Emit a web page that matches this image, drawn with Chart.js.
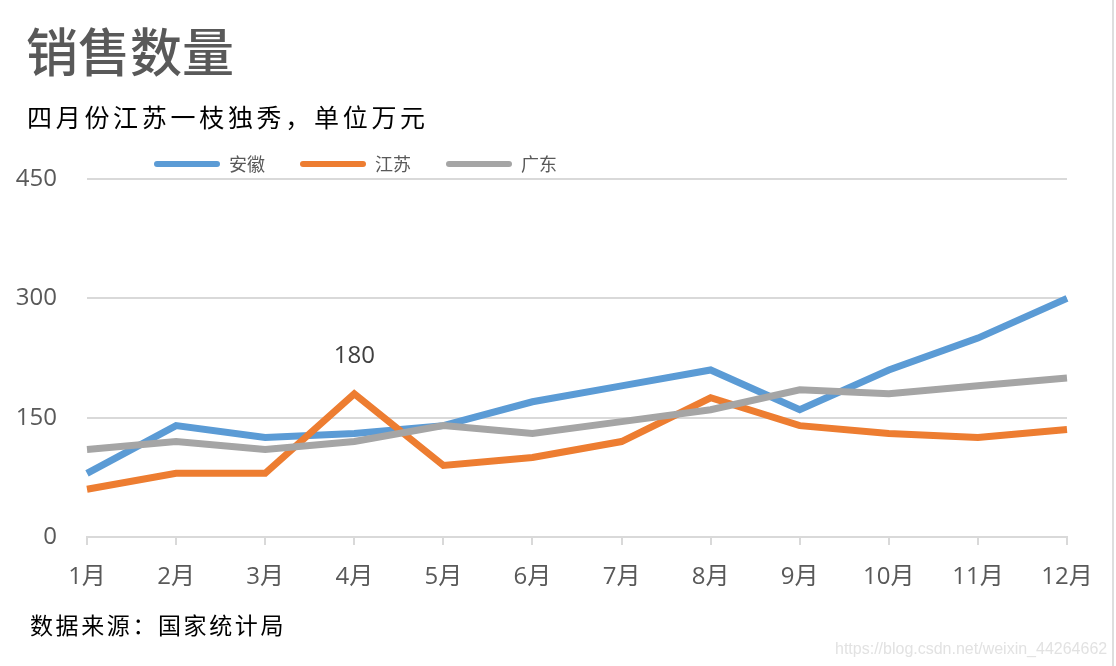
<!DOCTYPE html>
<html>
<head>
<meta charset="utf-8">
<script src="https://cdn.jsdelivr.net/npm/chart.js@4.4.1/dist/chart.umd.min.js"></script>
<style>
  html, body { margin: 0; padding: 0; background: #fff; }
  #wrap { position: relative; width: 1116px; height: 666px; overflow: hidden; background: #fff; }
  #c { position: absolute; left: 0; top: 0; }
  .txt { position: absolute; white-space: nowrap; pointer-events: none; }
  #title { left: 26px; top: 19px; font: 500 52px "Noto Sans CJK SC", sans-serif; color: #595959; line-height: 1.2; }
  #subtitle { left: 27px; top: 101px; font: 400 25px "Noto Sans CJK SC", sans-serif; color: #000; letter-spacing: 3.7px; line-height: 1.2; }
  #source { left: 30px; top: 611px; font: 400 23px "Noto Sans CJK SC", sans-serif; color: #000; letter-spacing: 2.6px; line-height: 1.2; }
  #wm { left: 835px; top: 639px; font: 400 16px "Liberation Sans", Arial, sans-serif; color: #e2e2e2; line-height: 1.2; }
  #edge { position: absolute; left: 1112px; top: 0; width: 2px; height: 666px; background: #dedede; }
</style>
</head>
<body>
<div id="wrap">
  <canvas id="c" width="1116" height="666"></canvas>
  <div id="title" class="txt">销售数量</div>
  <div id="subtitle" class="txt">四月份江苏一枝独秀，单位万元</div>
  <div id="source" class="txt">数据来源：国家统计局</div>
  <div id="wm" class="txt">https://blog.csdn.net/weixin_44264662</div>
  <div id="edge"></div>
</div>
<script>
const months = ['1月','2月','3月','4月','5月','6月','7月','8月','9月','10月','11月','12月'];
const anhui   = [80, 140, 125, 130, 140, 170, 190, 210, 160, 210, 250, 300];
const jiangsu = [60, 80, 80, 180, 90, 100, 120, 175, 140, 130, 125, 135];
const guangdong = [110, 120, 110, 120, 140, 130, 145, 160, 185, 180, 190, 200];
const yTicks = [0, 150, 300, 450];
const seriesNames = ['安徽', '江苏', '广东'];
const labelIndex = 3; // 江苏 4月 data label

const tickFont = { family: "'Open Sans', 'Noto Sans CJK SC', sans-serif", size: 24 };
const LEGEND_PAD = 35;

const legendPlace = {
  id: 'legendPlace',
  afterLayout(chart) {
    const lg = chart.legend;
    if (!lg) return;
    lg.left = 154 - LEGEND_PAD;
    lg.right = 1100;
    lg.top = 164 - LEGEND_PAD - 9;
  }
};

const pointLabel = {
  id: 'pointLabel',
  afterDatasetsDraw(chart) {
    const meta = chart.getDatasetMeta(1);
    const el = meta.data[labelIndex];
    if (!el) return;
    const ctx = chart.ctx;
    ctx.save();
    ctx.font = "24px 'Open Sans', sans-serif";
    ctx.fillStyle = '#404040';
    ctx.textAlign = 'center';
    ctx.textBaseline = 'middle';
    ctx.fillText(String(jiangsu[labelIndex]), el.x, el.y - 38);
    ctx.restore();
  }
};

const chart = new Chart(document.getElementById('c'), {
  type: 'line',
  data: {
    labels: months,
    datasets: [
      { label: seriesNames[0], data: anhui, borderColor: '#5B9BD5', backgroundColor: '#5B9BD5', order: 3 },
      { label: seriesNames[1], data: jiangsu, borderColor: '#ED7D31', backgroundColor: '#ED7D31', order: 2 },
      { label: seriesNames[2], data: guangdong, borderColor: '#A5A5A5', backgroundColor: '#A5A5A5', order: 1 }
    ]
  },
  options: {
    responsive: false,
    animation: false,
    devicePixelRatio: 1,
    elements: {
      line: { borderWidth: 7, tension: 0, fill: false, borderCapStyle: 'butt', borderJoinStyle: 'miter' },
      point: { radius: 0, hoverRadius: 0 }
    },
    layout: { padding: { left: 0, right: 49, top: 110, bottom: 0 } },
    plugins: {
      tooltip: { enabled: false },
      title: { display: false },
      legend: {
        display: true,
        position: 'top',
        align: 'start',
        labels: {
          boxWidth: 66,
          boxHeight: 6,
          useBorderRadius: true,
          borderRadius: 3,
          padding: LEGEND_PAD,
          color: '#595959',
          font: { family: "'Noto Sans CJK SC', sans-serif", size: 18 },
          generateLabels(ch) {
            return Chart.defaults.plugins.legend.labels.generateLabels(ch)
              .map(it => Object.assign(it, { lineWidth: 0 }));
          },
          sort: (a, b) => a.datasetIndex - b.datasetIndex
        }
      }
    },
    scales: {
      x: {
        type: 'category',
        offset: false,
        afterFit(scale) { scale.height = 129; },
        grid: { drawOnChartArea: false, drawTicks: true, tickLength: 8, color: '#d9d9d9', lineWidth: 2 },
        border: { display: true, color: '#d9d9d9', width: 2 },
        ticks: { color: '#595959', font: tickFont, padding: 18, maxRotation: 0, autoSkip: false }
      },
      y: {
        min: yTicks[0],
        max: yTicks[yTicks.length - 1],
        afterFit(scale) { scale.width = 87; },
        afterBuildTicks(scale) { scale.ticks = yTicks.map(v => ({ value: v })); },
        grid: { drawTicks: false, color: '#d9d9d9', lineWidth: 2 },
        border: { display: false },
        ticks: { color: '#595959', font: tickFont, padding: 30 }
      }
    }
  },
  plugins: [legendPlace, pointLabel]
});
// align the plot area top with the 450 gridline of the reference
const diff = 179 - chart.chartArea.top;
if (Math.abs(diff) > 0.5) {
  chart.options.layout.padding.top += diff;
  chart.update();
}
</script>
</body>
</html>
